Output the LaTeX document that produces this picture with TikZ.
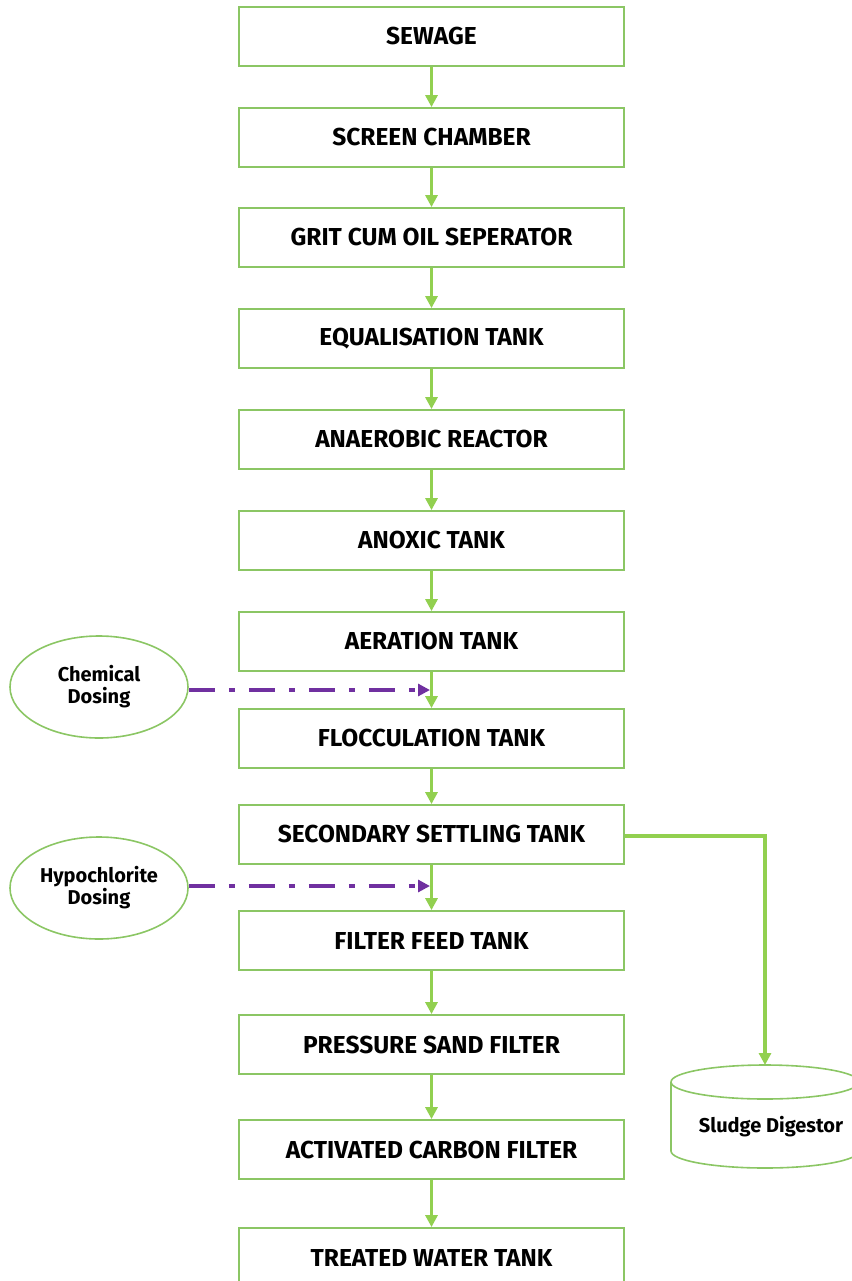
\documentclass[tikz,border=0pt]{standalone}
\usepackage{fontspec}
\setmainfont{Fira Sans}
\usetikzlibrary{arrows.meta,shapes.geometric}
\definecolor{boxgreen}{HTML}{8BC664}
\definecolor{arrgreen}{HTML}{92D050}
\definecolor{dosepurple}{HTML}{7030A0}
\tikzset{
  stepbox/.style={draw=boxgreen,line width=1.8pt,minimum width=385pt,minimum height=59pt,inner sep=0pt,font=\fontsize{24.5}{28}\selectfont\bfseries},
  dosing/.style={draw=boxgreen,line width=1.6pt,ellipse,minimum width=178pt,minimum height=102pt,inner sep=0pt,align=center,font=\fontsize{20}{24}\selectfont\bfseries},
  flow/.style={draw=arrgreen,line width=3.2pt,-{Triangle[length=12pt,width=12pt]}},
  dose/.style={draw=dosepurple,line width=4pt,dash pattern=on 26pt off 14pt on 6pt off 14pt,-{Triangle[length=12pt,width=12pt]}}
}
\begin{document}
\begin{tikzpicture}[x=1pt,y=-1pt]
\useasboundingbox (0,0) rectangle (851,1281);
\node[stepbox] (s1) at (431.5,36.5) {SEWAGE};
\node[stepbox] (s2) at (431.5,137.5) {SCREEN CHAMBER};
\node[stepbox] (s3) at (431.5,237.5) {GRIT CUM OIL SEPERATOR};
\node[stepbox] (s4) at (431.5,338.5) {EQUALISATION TANK};
\node[stepbox] (s5) at (431.5,439.5) {ANAEROBIC REACTOR};
\node[stepbox] (s6) at (431.5,540.5) {ANOXIC TANK};
\node[stepbox] (s7) at (431.5,641.5) {AERATION TANK};
\node[stepbox] (s8) at (431.5,738.5) {FLOCCULATION TANK};
\node[stepbox] (s9) at (431.5,834.5) {SECONDARY SETTLING TANK};
\node[stepbox] (s10) at (431.5,940.5) {FILTER FEED TANK};
\node[stepbox] (s11) at (431.5,1044.5) {PRESSURE SAND FILTER};
\node[stepbox] (s12) at (431.5,1149.5) {ACTIVATED CARBON FILTER};
\node[stepbox] (s13) at (431.5,1257.5) {TREATED WATER TANK};
\foreach \a/\b in {s1/s2,s2/s3,s3/s4,s4/s5,s5/s6,s6/s7,s7/s8,s8/s9,s9/s10,s10/s11,s11/s12,s12/s13}
  \draw[flow] (\a.south) -- (\b.north);
\node[dosing] (d1) at (99,687) {Chemical\\[-2pt]Dosing};
\node[dosing] (d2) at (99,888) {Hypochlorite\\[-2pt]Dosing};
\coordinate (c1) at (430,690);
\coordinate (c2) at (430,886);
\draw[dose] (d1.east |- c1) -- (c1);
\draw[dose] (d2.east |- c2) -- (c2);
% sludge digestor cylinder
\coordinate (sdtop) at (765,1065);
\draw[boxgreen,line width=1.6pt] (671,1082) arc[start angle=180,end angle=-180,x radius=94,y radius=17];
\draw[boxgreen,line width=1.6pt] (671,1082) -- (671,1151) arc[start angle=180,end angle=0,x radius=94,y radius=17] -- (859,1082);
\node[font=\fontsize{20}{24}\selectfont\bfseries] (sd) at (771,1127) {Sludge Digestor};
\coordinate (bend) at (765,836);
\draw[flow] (s9.east |- bend) -- (bend) -- (sdtop);
\end{tikzpicture}
\end{document}
